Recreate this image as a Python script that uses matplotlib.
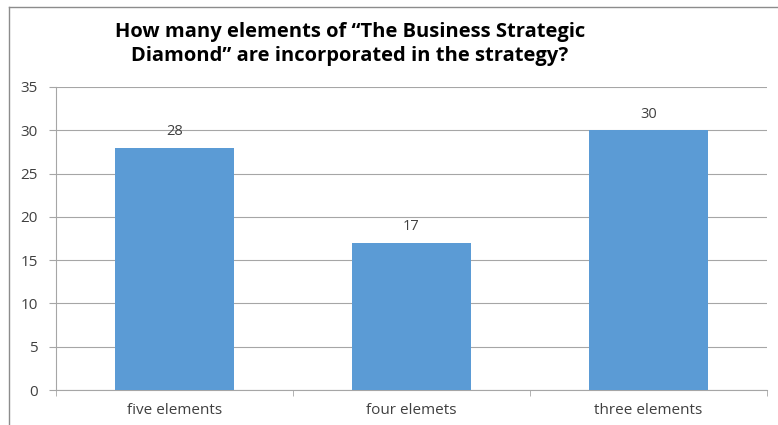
import matplotlib.pyplot as plt
from matplotlib.lines import Line2D

## chart data
categories = ["five elements", "four elemets", "three elements"]
counts = [28, 17, 30]
y_ticks = [0, 5, 10, 15, 20, 25, 30, 35]

bar_color = "#5B9BD5"
grid_color = "#A6A6A6"

plt.rcParams["font.family"] = ["Open Sans", "DejaVu Sans"]

fig = plt.figure(figsize=(7.78, 4.25), dpi=100)
ax = fig.add_axes([56 / 778, 1 - 390 / 425, (767 - 56) / 778, (390 - 87) / 425])

x = list(range(len(categories)))
bars = ax.bar(x, counts, width=0.5, color=bar_color, zorder=3)

## value labels above bars
for xi, v in zip(x, counts):
    ax.text(xi, v + 1.0, str(v), ha="center", va="bottom", fontsize=10.5, color="#404040")

ax.set_xlim(-0.5, len(categories) - 0.5)
ax.set_ylim(0, 35)
ax.set_yticks(y_ticks)
ax.set_yticklabels([str(t) for t in y_ticks], fontsize=11, color="#404040")
ax.yaxis.grid(True, color=grid_color, linewidth=0.8, zorder=0)

## x axis: category labels, ticks on category boundaries
ax.set_xticks(x)
ax.set_xticklabels(categories, fontsize=11, color="#404040")
ax.tick_params(axis="x", length=0, pad=9)
ax.set_xticks([b - 0.5 for b in range(len(categories) + 1)], minor=True)
ax.tick_params(axis="x", which="minor", length=4, color=grid_color)
ax.tick_params(axis="y", length=5, color=grid_color, pad=8)

for side in ["top", "right"]:
    ax.spines[side].set_visible(False)
ax.spines["left"].set_color(grid_color)
ax.spines["bottom"].set_color(grid_color)

## title
fig.text(350 / 778, 1 - 44 / 425,
         "How many elements of \u201cThe Business Strategic\nDiamond\u201d are incorporated in the strategy?",
         ha="center", va="center", fontsize=14.5, fontweight="bold", linespacing=1.25)

## outer frame (top and left only)
fig.add_artist(Line2D([9 / 778, 9 / 778], [0, 1 - 7 / 425], transform=fig.transFigure,
                      color="#8C8C8C", linewidth=1))
fig.add_artist(Line2D([9 / 778, 1], [1 - 7 / 425, 1 - 7 / 425], transform=fig.transFigure,
                      color="#8C8C8C", linewidth=1))

plt.savefig("out.png", dpi=100)
